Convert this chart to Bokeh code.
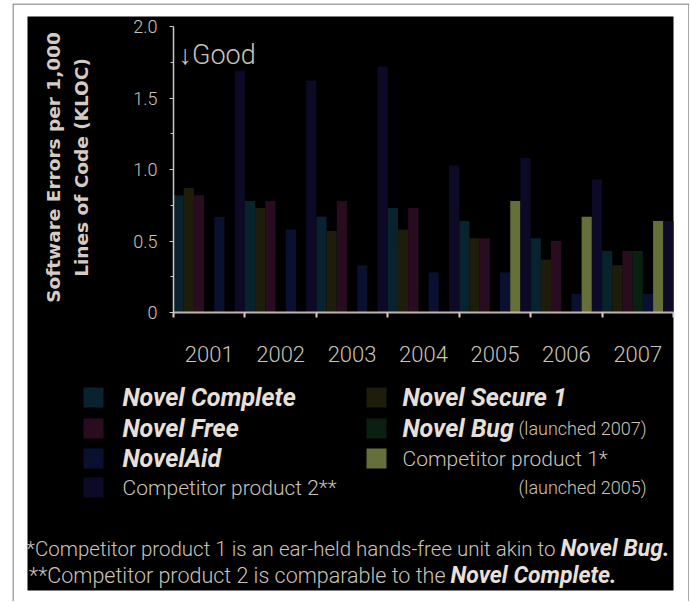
import math
from bokeh.plotting import figure
from bokeh.models import Range1d, FixedTicker, Label
from bokeh.embed import file_html
from bokeh.resources import INLINE

# ---------------- data ----------------
years = [2001, 2002, 2003, 2004, 2005, 2006, 2007]
series_names = ["Novel Complete", "Novel Secure 1", "Novel Free", "Novel Bug",
                "NovelAid", "Competitor product 1", "Competitor product 2"]
novel_complete = [0.82, 0.78, 0.67, 0.73, 0.64, 0.52, 0.43]
novel_secure_1 = [0.87, 0.73, 0.57, 0.58, 0.52, 0.37, 0.33]
novel_free = [0.82, 0.78, 0.78, 0.73, 0.52, 0.50, 0.43]
novel_bug = [None, None, None, None, None, None, 0.43]
novel_aid = [0.67, 0.58, 0.33, 0.28, 0.28, 0.13, 0.13]
competitor_1 = [None, None, None, None, 0.78, 0.67, 0.64]
competitor_2 = [1.69, 1.62, 1.72, 1.03, 1.08, 0.93, 0.64]
series_values = [novel_complete, novel_secure_1, novel_free, novel_bug,
                 novel_aid, competitor_1, competitor_2]
series_colors = ["#08222e", "#1e1c0a", "#2a0c20", "#0a2010",
                 "#0a1030", "#646f3a", "#0c0a26"]
y_ticks = [0, 0.5, 1.0, 1.5, 2.0]
y_tick_labels = ["0", "0.5", "1.0", "1.5", "2.0"]
y_minor_ticks = [0.25, 0.75, 1.25, 1.75]
year_bounds = [y - 0.5 for y in years] + [years[-1] + 0.5]

# ---------------- layout constants (page pixels) ----------------
FIG_LEFT, FIG_TOP, FIG_W, FIG_H = 12, 3, 677, 598
PANEL_L, PANEL_T, PANEL_R, PANEL_B = 27, 16, 673, 590
AXIS_X0, AXIS_X1 = 173, 673     # page x of the first / last year boundary
AXIS_Y0, AXIS_Y1 = 312, 26      # page y of value 0 / 2.0

FONT = "Roboto"
FONT_LIGHT = "Roboto Light, Roboto"
LABEL_C = "#cbc3ba"
BOLD_C = "#e8e0d8"

x_lo, x_hi = years[0] - 0.5, years[-1] + 0.5
y_lo, y_hi = y_ticks[0], y_ticks[-1]
kx = (AXIS_X1 - AXIS_X0) / (x_hi - x_lo)
ky = (AXIS_Y0 - AXIS_Y1) / (y_hi - y_lo)
x_range = Range1d(x_lo - (AXIS_X0 - FIG_LEFT) / kx, x_hi + (FIG_LEFT + FIG_W - AXIS_X1) / kx)
y_range = Range1d(y_lo - (FIG_TOP + FIG_H - AXIS_Y0) / ky, y_hi + (AXIS_Y1 - FIG_TOP) / ky)

p = figure(width=FIG_W, height=FIG_H, x_range=x_range, y_range=y_range,
           output_backend="svg", toolbar_location=None, min_border=0,
           background_fill_color="white", border_fill_color="white",
           outline_line_color=None, margin=(FIG_TOP, 0, 0, FIG_LEFT))
p.extra_x_ranges = {"px": Range1d(FIG_LEFT, FIG_LEFT + FIG_W)}
p.extra_y_ranges = {"py": Range1d(FIG_TOP + FIG_H, FIG_TOP)}
p.grid.visible = False

# page frame and black panel
p.line(x=[12.5, 12.5, 688.5, 688.5], y=[602, 3.5, 3.5, 602], x_range_name="px", y_range_name="py",
       line_color="#8a8a8a", line_width=1.5)
p.quad(left=[PANEL_L], right=[PANEL_R], top=[PANEL_T], bottom=[PANEL_B],
       x_range_name="px", y_range_name="py", fill_color="black", line_color=None)

# bars
n_slots = len(series_names)
bar_w = 1.0 / n_slots
for s, (vals, col) in enumerate(zip(series_values, series_colors)):
    xs = [yr + (s - (n_slots - 1) / 2) * bar_w for yr, v in zip(years, vals) if v is not None]
    tops = [v for v in vals if v is not None]
    p.vbar(x=xs, top=tops, bottom=0, width=bar_w, fill_color=col, line_color=None)

# axes
xa = p.xaxis[0]
xa.fixed_location = 0
xa.bounds = (x_lo, x_hi)
xa.ticker = FixedTicker(ticks=years, minor_ticks=year_bounds)
xa.major_tick_out = 0
xa.major_tick_in = 0
xa.minor_tick_out = 5
xa.minor_tick_in = 0
xa.minor_tick_line_color = "#d8d0c8"
xa.minor_tick_line_width = 2
xa.axis_line_color = "#c4b4ae"
xa.axis_line_width = 2
xa.major_label_text_font = FONT_LIGHT
xa.major_label_text_font_size = "22px"
xa.major_label_text_color = LABEL_C
xa.major_label_standoff = 28

ya = p.yaxis[0]
ya.fixed_location = x_lo
ya.bounds = (y_lo, y_hi)
ya.ticker = FixedTicker(ticks=y_ticks, minor_ticks=y_minor_ticks)
ya.major_tick_out = 4
ya.major_tick_in = 0
ya.minor_tick_out = 3
ya.minor_tick_in = 0
ya.major_tick_line_color = "#d0c8c0"
ya.minor_tick_line_color = "#d0c8c0"
ya.axis_line_color = "#d0c8c0"
ya.axis_line_width = 1.5
ya.major_label_overrides = dict(zip(y_ticks, y_tick_labels))
ya.major_label_text_font = FONT_LIGHT
ya.major_label_text_font_size = "18px"
ya.major_label_text_color = LABEL_C
ya.major_label_standoff = 12


def px_label(x, y, text, **kw):
    p.add_layout(Label(x=x, y=y, text=text, x_range_name="px", y_range_name="py",
                       text_baseline="middle", **kw))


px_label(178, 54, "\u2193Good", text_font=FONT_LIGHT, text_font_size="27px", text_color=LABEL_C)
px_label(53, 167, "Software Errors per 1,000", angle=math.pi / 2, text_font="DejaVu Sans",
         text_font_style="bold", text_font_size="18.5px", text_color="#d4ccc4", text_align="center")
px_label(81, 167, "Lines of Code (KLOC)", angle=math.pi / 2, text_font="DejaVu Sans",
         text_font_style="bold", text_font_size="18.5px", text_color="#d4ccc4", text_align="center")

# ---------------- legend ----------------
legend_slots = [  # series index, swatch left, row centre, label, style
    (0, 83, 397, "Novel Complete", "bold italic"),
    (2, 83, 428, "Novel Free", "bold italic"),
    (4, 83, 458, "NovelAid", "bold italic"),
    (6, 83, 487, "Competitor product 2**", "normal"),
    (1, 366, 397, "Novel Secure 1", "bold italic"),
    (3, 366, 428, "Novel Bug", "bold italic"),
    (5, 366, 458, "Competitor product 1*", "normal"),
]
sw = 20
p.quad(left=[e[1] for e in legend_slots], right=[e[1] + sw for e in legend_slots],
       top=[e[2] - sw / 2 for e in legend_slots], bottom=[e[2] + sw / 2 for e in legend_slots],
       x_range_name="px", y_range_name="py",
       fill_color=[series_colors[e[0]] for e in legend_slots], line_color=None)

for idx, sx, cy, txt, style in legend_slots:
    bold = style != "normal"
    px_label(sx + sw + (19 if sx < 200 else 16), cy, txt,
             text_font=FONT if bold else FONT_LIGHT, text_font_style=style,
             text_font_size="25px" if bold else "21px",
             text_color=BOLD_C if bold else LABEL_C)

px_label(646, 428, "(launched 2007)", text_font=FONT_LIGHT, text_font_size="18px",
         text_color=LABEL_C, text_align="right")
px_label(646, 487, "(launched 2005)", text_font=FONT_LIGHT, text_font_size="18px",
         text_color=LABEL_C, text_align="right")

# ---------------- footnotes ----------------
notes = [  # row centre, plain part, bold part, x where bold part starts, plain size
    (548, "*Competitor product 1 is an ear-held hands-free unit akin to", "Novel Bug.", 560, "20.5px"),
    (575, "**Competitor product 2 is comparable to the", "Novel Complete.", 450, "21.5px"),
]
for cy, plain, bold, xb, fs in notes:
    px_label(xb - 5, cy, plain, text_font=FONT_LIGHT, text_font_size=fs,
             text_color=LABEL_C, text_align="right")
    px_label(xb, cy, bold, text_font=FONT, text_font_style="bold italic",
             text_font_size="23px", text_color=BOLD_C, text_align="left")

with open("out.html", "w") as f:
    f.write(file_html(p, INLINE))
